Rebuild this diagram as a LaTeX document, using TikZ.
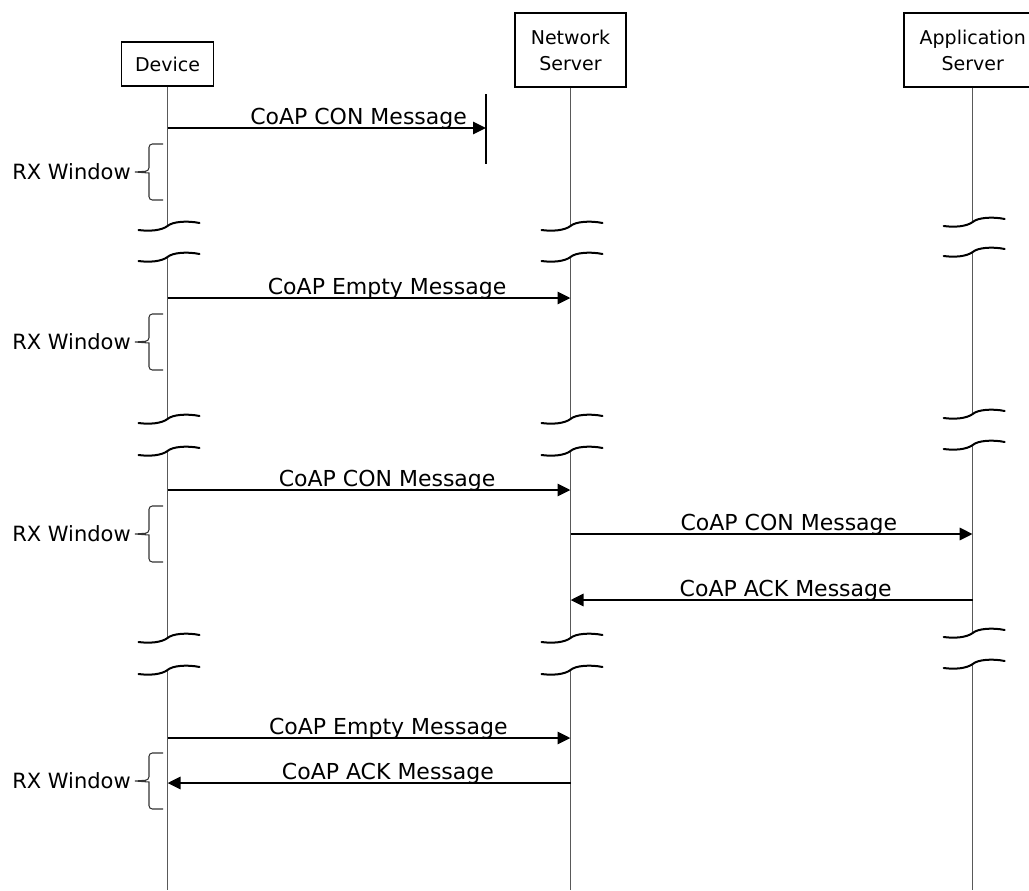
\documentclass[tikz,border=0pt]{standalone}
\usepackage{fontspec}
\setmainfont{DejaVu Sans}
\usetikzlibrary{arrows.meta}
\tikzset{
  >={Triangle[length=9.75pt,width=9pt]},
  actor/.style   = {draw, line width=1.1pt, fill=white, inner sep=0pt, align=center, font=\fontsize{14.25}{19.5}\selectfont},
  life/.style    = {draw=black!65, line width=0.8pt},
  msg/.style     = {->, line width=2.2pt},
  lbl/.style     = {anchor=base, yshift=3pt, inner sep=0pt, font=\fontsize{16.5}{20}\selectfont},
  brkline/.style = {line width=1.5pt, line cap=round},
  rxbrace/.style = {draw=black!80, line width=0.8pt},
  rxlbl/.style   = {anchor=east, inner sep=0pt, font=\fontsize{15.75}{19}\selectfont},
  brk/.pic = {\draw[brkline] (-29,4) .. controls (-18,5.5) and (-6,4.5) .. (0,0) .. controls (5,-4.5) and (20,-5.5) .. (32,-3);}
}

\begin{document}
\begin{tikzpicture}[x=0.75pt, y=-0.75pt]
\useasboundingbox (0,0) rectangle (1029,890);
\clip (0,0) rectangle (1029,890);

\node[actor, minimum width=69pt, minimum height=33pt] (dev) at (167.5,64) {Device};
\node[actor, minimum width=83.25pt, minimum height=55.5pt] (ns) at (570.5,50) {Network\\Server};
\node[actor, minimum width=102.75pt, minimum height=55.5pt] (as) at (972.7,50) {Application\\Server};

% lifelines with breaks
\foreach \n/\ya/\yb/\yc/\yd/\ye/\yf in {dev/226/257/419/451/638/670, ns/226/257/419/451/638/670, as/222/252/414/445/633/664} {
  \draw[life] (\n.south) -- (\n |- 0,\ya)  (\n |- 0,\yb) -- (\n |- 0,\yc)
              (\n |- 0,\yd) -- (\n |- 0,\ye)  (\n |- 0,\yf) -- (\n |- 0,890);
  \foreach \y in {\ya,\yb,\yc,\yd,\ye,\yf} \pic at (\n |- 0,\y) {brk};
}

\coordinate (cut) at (486,128);
\draw[line width=0.8pt] (cut) ++(0,-34) -- ++(0,70);

\draw[msg] (dev |- cut) -- node[lbl, pos=.6] {CoAP CON Message} (cut);
\draw[msg] (dev |- 0,298) -- node[lbl, pos=.545] {CoAP Empty Message} (ns |- 0,298);
\draw[msg] (dev |- 0,490) -- node[lbl, pos=.545] {CoAP CON Message} (ns |- 0,490);
\draw[msg] (ns |- 0,534) -- node[lbl, pos=.543] {CoAP CON Message} (as |- 0,534);
\draw[msg] (as |- 0,600) -- node[lbl, pos=.465] {CoAP ACK Message} (ns |- 0,600);
\draw[msg] (dev |- 0,738) -- node[lbl, pos=.548] {CoAP Empty Message} (ns |- 0,738);
\draw[msg] (ns |- 0,783) -- node[lbl, pos=.453] {CoAP ACK Message} (dev |- 0,783);

% RX windows
\foreach \t in {144,314,506,753} {
  \draw[rxbrace, rounded corners=2.5pt] (163,\t) -| (149,\t+27) [sharp corners] -- (135,\t+28) -- (149,\t+29) [rounded corners=2.5pt] |- (163,\t+56);
  \node[rxlbl] (rx\t) at (131,\t+28) {RX Window};
}
\end{tikzpicture}
\end{document}
